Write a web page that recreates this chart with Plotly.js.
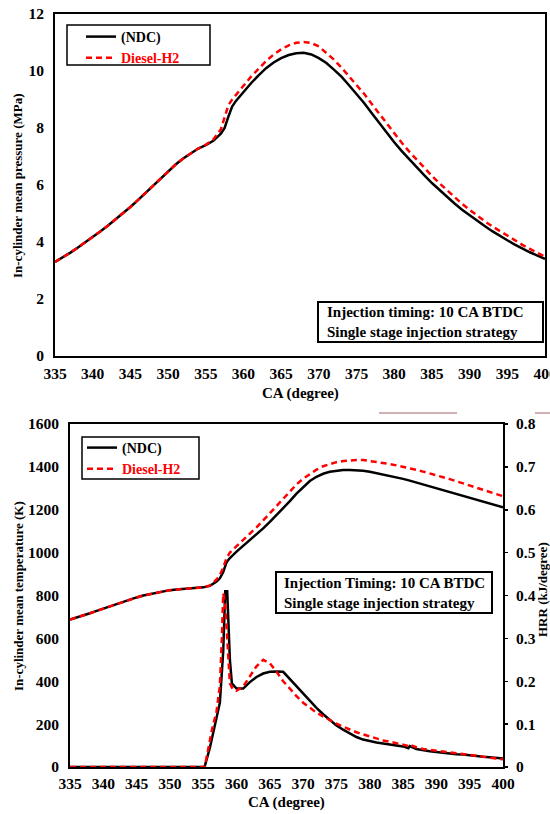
<!DOCTYPE html>
<html>
<head>
<meta charset="utf-8">
<script src="https://cdn.plot.ly/plotly-3.0.1.min.js"></script>
<style>html,body{margin:0;padding:0;background:#fff;}#chart{width:550px;height:814px;}</style>
</head>
<body>
<div id="chart"></div>
<script>
// ---------- Pressure (top chart) ----------
const caPressNDC = [335,336,337,338,339,340,341,342,343,344,345,346,347,348,349,350,351,352,353,354,355,356,357,357.5,358,358.5,359,360,361,362,363,364,365,366,367,368,369,370,371,372,373,374,375,376,377,378,379,380,381,382,383,384,385,386,387,388,389,390,391,392,393,394,395,396,397,398,399,400];
const pressNDC = [3.30,3.45,3.62,3.80,3.98,4.17,4.37,4.57,4.78,5.00,5.23,5.47,5.72,5.97,6.22,6.47,6.72,6.93,7.12,7.28,7.40,7.55,7.80,8.00,8.40,8.75,8.95,9.28,9.57,9.85,10.10,10.30,10.45,10.56,10.62,10.64,10.58,10.45,10.28,10.05,9.80,9.50,9.20,8.88,8.53,8.18,7.83,7.50,7.19,6.90,6.62,6.34,6.07,5.82,5.58,5.35,5.13,4.93,4.74,4.56,4.38,4.21,4.06,3.91,3.77,3.64,3.52,3.41];
const caPressH2 = [335,336,337,338,339,340,341,342,343,344,345,346,347,348,349,350,351,352,353,354,355,356,357,357.5,358,358.5,359,360,361,362,363,364,365,366,367,368,369,370,371,372,373,374,375,376,377,378,379,380,381,382,383,384,385,386,387,388,389,390,391,392,393,394,395,396,397,398,399,400];
const pressH2 = [3.30,3.45,3.62,3.80,3.98,4.17,4.37,4.57,4.78,5.00,5.23,5.47,5.72,5.97,6.22,6.47,6.72,6.93,7.12,7.28,7.41,7.60,7.95,8.35,8.80,9.00,9.15,9.48,9.80,10.08,10.35,10.58,10.76,10.90,10.99,11.02,10.98,10.86,10.64,10.40,10.12,9.82,9.52,9.20,8.85,8.50,8.15,7.80,7.48,7.17,6.88,6.60,6.32,6.06,5.81,5.57,5.34,5.13,4.92,4.73,4.55,4.38,4.21,4.05,3.90,3.76,3.63,3.48];

// ---------- Temperature (bottom chart, left axis) ----------
const caTemp = [335,336,337,338,339,340,341,342,343,344,345,346,347,348,349,350,351,352,353,354,355,356,357,357.5,358,358.5,359,360,361,362,363,364,365,366,367,368,369,370,371,372,373,374,375,376,377,378,379,380,381,382,383,384,385,386,387,388,389,390,391,392,393,394,395,396,397,398,399,400];
const tempNDC = [688,697,707,717,728,739,750,761,772,782,791,800,807,814,820,825,828,831,833,835,838,845,865,880,910,955,975,1005,1032,1057,1085,1113,1143,1174,1206,1240,1275,1306,1334,1354,1368,1377,1382,1385,1385,1384,1382,1377,1371,1365,1358,1351,1344,1336,1327,1318,1309,1300,1291,1282,1273,1264,1255,1246,1237,1228,1219,1212];
const tempH2 = [688,697,707,717,728,739,750,761,772,782,791,800,807,814,820,825,828,831,833,835,838,847,875,895,930,975,1000,1030,1058,1088,1118,1150,1183,1218,1252,1287,1318,1345,1368,1387,1403,1414,1422,1427,1430,1432,1432,1428,1423,1418,1413,1407,1401,1394,1386,1378,1370,1361,1352,1343,1333,1323,1313,1303,1293,1283,1273,1263];

// ---------- Heat release rate (bottom chart, right axis) ----------
const caHrrNDC = [335,340,345,350,355,355.2,356,357,357.5,358,358.3,358.6,359,359.3,360,361,362,363,364,365,366,367,368,369,370,371,372,373,374,375,376,377,378,379,380,381,382,383,384,385,385.8,386,387,388,389,390,391,392,393,394,395,396,397,398,399,400];
const hrrNDC = [0,0,0,0,0,0,0.045,0.11,0.15,0.27,0.41,0.41,0.25,0.195,0.183,0.183,0.198,0.210,0.218,0.222,0.223,0.222,0.205,0.190,0.173,0.155,0.138,0.123,0.109,0.097,0.087,0.078,0.070,0.064,0.060,0.057,0.055,0.053,0.051,0.048,0.044,0.049,0.042,0.039,0.037,0.035,0.033,0.032,0.030,0.029,0.027,0.026,0.024,0.023,0.021,0.020];
const caHrrH2 = [335,340,345,350,355,355.2,355.6,356.3,357,357.5,357.8,358,358.3,358.6,359,359.5,360,361,362,363,364,365,366,367,368,369,370,371,372,373,374,375,376,377,378,379,380,381,382,383,384,385,385.8,386,387,388,389,390,391,392,393,394,395,396,397,398,399,400];
const hrrH2 = [0,0,0,0,0,0,0.03,0.086,0.13,0.19,0.30,0.405,0.38,0.30,0.195,0.180,0.178,0.188,0.212,0.235,0.250,0.242,0.222,0.200,0.183,0.165,0.150,0.138,0.127,0.118,0.109,0.101,0.094,0.087,0.081,0.076,0.071,0.066,0.062,0.059,0.056,0.053,0.049,0.052,0.046,0.042,0.040,0.037,0.035,0.033,0.031,0.029,0.027,0.025,0.023,0.021,0.019,0.018];

const seriesNames = ['(NDC)', 'Diesel-H2'];
const xTickVals = [335,340,345,350,355,360,365,370,375,380,385,390,395,400];

const W = 550, H = 814;
const px = v => v / W;
const py = v => 1 - v / H;
const FONT = '"Liberation Serif", "Times New Roman", serif';
const f = (s) => ({family: FONT, size: s, color: '#000', weight: 'bold'});

const blackLine = {color: '#000000', width: 2.5};
const redLine = {color: '#ff0000', width: 2.5, dash: '6px,4px'};

const traces = [
  {x: caPressNDC, y: pressNDC, xaxis: 'x', yaxis: 'y', mode: 'lines', line: blackLine, name: seriesNames[0], legend: 'legend'},
  {x: caPressH2, y: pressH2, xaxis: 'x', yaxis: 'y', mode: 'lines', line: redLine, name: '<span style="color:#ff0000">' + seriesNames[1] + '</span>', legend: 'legend'},
  {x: caTemp, y: tempNDC, xaxis: 'x2', yaxis: 'y2', mode: 'lines', line: blackLine, name: seriesNames[0], legend: 'legend2'},
  {x: caTemp, y: tempH2, xaxis: 'x2', yaxis: 'y2', mode: 'lines', line: redLine, name: '<span style="color:#ff0000">' + seriesNames[1] + '</span>', legend: 'legend2'},
  {x: caHrrNDC, y: hrrNDC, xaxis: 'x2', yaxis: 'y3', mode: 'lines', line: blackLine, showlegend: false},
  {x: caHrrH2, y: hrrH2, xaxis: 'x2', yaxis: 'y3', mode: 'lines', line: redLine, showlegend: false}
];

const axisCommon = {
  showgrid: false, zeroline: false, showline: true, linecolor: '#000', linewidth: 2,
  tickfont: f(15.5), automargin: false, fixedrange: true, ticklabeloverflow: 'allow'
};

const layout = {
  width: W, height: H,
  margin: {l: 0, r: 0, t: 0, b: 0},
  paper_bgcolor: '#fff', plot_bgcolor: '#fff',
  font: f(14),
  xaxis: Object.assign({}, axisCommon, {domain: [px(55), px(545)], anchor: 'y', range: [335, 400], tickvals: xTickVals, ticks: '', mirror: true, ticklabelstandoff: 2}),
  yaxis: Object.assign({}, axisCommon, {domain: [py(356), py(14)], anchor: 'x', range: [0, 12], dtick: 2, ticks: '', mirror: true, ticklabelstandoff: 6}),
  xaxis2: Object.assign({}, axisCommon, {domain: [px(70), px(503)], anchor: 'y2', range: [335, 400], tickvals: xTickVals, ticks: '', mirror: true, ticklabelstandoff: 1}),
  yaxis2: Object.assign({}, axisCommon, {domain: [py(767), py(424)], anchor: 'x2', range: [0, 1600], dtick: 200, ticks: '', ticklabelstandoff: 6}),
  yaxis3: Object.assign({}, axisCommon, {overlaying: 'y2', side: 'right', anchor: 'x2', range: [0, 0.8], dtick: 0.1, ticks: 'outside', ticklen: 3, tickwidth: 1.5, tickcolor: '#000', ticklabelstandoff: 5}),
  legend: {x: px(81), y: py(21), xanchor: 'left', yanchor: 'top', bgcolor: 'rgba(0,0,0,0)', borderwidth: 0, tracegroupgap: 0,
           font: f(14), itemwidth: 30},
  legend2: {x: px(82), y: py(432), xanchor: 'left', yanchor: 'top', bgcolor: 'rgba(0,0,0,0)', borderwidth: 0, tracegroupgap: 0,
           font: f(14), itemwidth: 30},
  shapes: [
    {type: 'rect', xref: 'paper', yref: 'paper', x0: px(67), x1: px(210), y0: py(65), y1: py(25), line: {color: '#000', width: 1.5}},
    {type: 'rect', xref: 'paper', yref: 'paper', x0: px(82), x1: px(199), y0: py(479), y1: py(437), line: {color: '#000', width: 1.5}},
    {type: 'rect', xref: 'paper', yref: 'paper', x0: px(318), x1: px(543), y0: py(342), y1: py(302), line: {color: '#000', width: 2}, fillcolor: '#fff', layer: 'above'},
    {type: 'rect', xref: 'paper', yref: 'paper', x0: px(276), x1: px(492), y0: py(613), y1: py(572), line: {color: '#000', width: 2}, fillcolor: '#fff', layer: 'above'},
    {type: 'line', xref: 'paper', yref: 'paper', x0: px(379), x1: px(457), y0: py(413), y1: py(413), line: {color: 'rgb(192,150,150)', width: 1.5}},
    {type: 'line', xref: 'paper', yref: 'paper', x0: px(535), x1: px(550), y0: py(413), y1: py(413), line: {color: 'rgb(192,150,150)', width: 1.5}}
  ],
  annotations: [
    {xref: 'paper', yref: 'paper', x: px(325), y: py(322), xanchor: 'left', yanchor: 'middle', align: 'left', showarrow: false,
     text: 'Injection timing: 10 CA BTDC<br>Single stage injection strategy', font: f(15)},
    {xref: 'paper', yref: 'paper', x: px(282), y: py(592.5), xanchor: 'left', yanchor: 'middle', align: 'left', showarrow: false,
     text: 'Injection Timing: 10 CA BTDC<br>Single stage injection strategy', font: f(15)},
    {xref: 'paper', yref: 'paper', x: px(300), y: py(393), xanchor: 'center', yanchor: 'middle', showarrow: false, text: 'CA (degree)', font: f(15)},
    {xref: 'paper', yref: 'paper', x: px(286), y: py(802), xanchor: 'center', yanchor: 'middle', showarrow: false, text: 'CA (degree)', font: f(15)},
    {xref: 'paper', yref: 'paper', x: px(18), y: py(186), xanchor: 'center', yanchor: 'middle', showarrow: false, textangle: -90,
     text: 'In-cylinder mean pressure (MPa)', font: f(13)},
    {xref: 'paper', yref: 'paper', x: px(18), y: py(596), xanchor: 'center', yanchor: 'middle', showarrow: false, textangle: -90,
     text: 'In-cylinder mean temperature (K)', font: f(13)},
    {xref: 'paper', yref: 'paper', x: px(542), y: py(590), xanchor: 'center', yanchor: 'middle', showarrow: false, textangle: -90,
     text: 'HRR (kJ/degree)', font: f(13)}
  ]
};

Plotly.newPlot('chart', traces, layout, {staticPlot: true, displayModeBar: false});
</script>
</body>
</html>
